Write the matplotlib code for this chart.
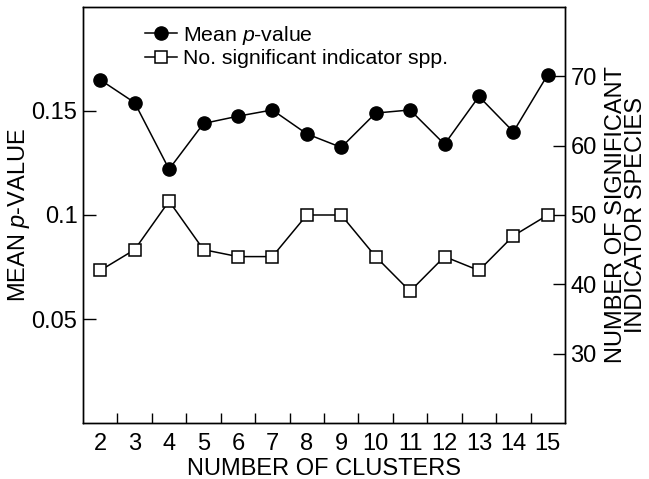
import numpy as np
import matplotlib
matplotlib.use("Agg")
import matplotlib.pyplot as plt
from matplotlib.ticker import FixedLocator, NullFormatter

plt.rcParams.update({
    "font.family": "Liberation Sans",
    "mathtext.fontset": "custom",
    "mathtext.rm": "Liberation Sans",
    "mathtext.it": "Liberation Sans:italic",
    "font.size": 17,
})

# --- dados ---
clusters = [2, 3, 4, 5, 6, 7, 8, 9, 10, 11, 12, 13, 14, 15]
mean_p = [0.165, 0.154, 0.122, 0.144, 0.1475, 0.1505, 0.139,
          0.1325, 0.149, 0.1505, 0.134, 0.157, 0.140, 0.1675]
n_species = [42, 45, 52, 45, 44, 44, 50, 50, 44, 39, 44, 42, 47, 50]

left_ticks = [0.05, 0.1, 0.15]
left_ticklabels = ["0.05", "0.1", "0.15"]
right_ticks = [30, 40, 50, 60, 70]

fig = plt.figure(figsize=(6.49, 4.79), dpi=100)
ax = fig.add_axes([0.1279, 0.1169, 0.7427, 0.8685])
ax2 = ax.twinx()

l1, = ax.plot(clusters, mean_p, color="black", linewidth=1.1, marker="o",
              markersize=9.5, markerfacecolor="black", markeredgecolor="black",
              label="Mean $p$-value", zorder=3)
l2, = ax2.plot(clusters, n_species, color="black", linewidth=1.1, marker="s",
               markersize=9, markerfacecolor="white", markeredgecolor="black",
               markeredgewidth=1.1, label="No. significant indicator spp.", zorder=3)

ax.set_xlim(1.5, 15.5)
ax.set_ylim(0, 0.2)
ax2.set_ylim(20, 80)

# rótulos nos inteiros, marcas nos meios
ax.set_xticks(clusters)
ax.xaxis.set_minor_locator(FixedLocator(np.arange(2.5, 15, 1.0)))
ax.xaxis.set_minor_formatter(NullFormatter())
ax.tick_params(axis="x", which="major", length=0, pad=7, labelsize=17)
ax.tick_params(axis="x", which="minor", direction="in", length=7, width=1)

ax.set_yticks(left_ticks)
ax.set_yticklabels(left_ticklabels)
ax.tick_params(axis="y", direction="in", length=9, width=1, pad=4, labelsize=17)

ax2.set_yticks(right_ticks)
ax2.tick_params(axis="y", direction="in", length=9, width=1, pad=4, labelsize=17)

for a in (ax, ax2):
    for s in a.spines.values():
        s.set_linewidth(1.0)

ax.set_xlabel("NUMBER OF CLUSTERS", fontsize=17, labelpad=2)
ax.set_ylabel("MEAN $p$-VALUE", fontsize=17, labelpad=0)
ax2.set_ylabel("NUMBER OF SIGNIFICANT\nINDICATOR SPECIES", fontsize=17,
               labelpad=6, linespacing=0.88)

ax2.legend([l1, l2], [l1.get_label(), l2.get_label()], loc="upper left",
           bbox_to_anchor=(0.11, 0.98), frameon=False, fontsize=15.3,
           handlelength=1.55, handletextpad=0.25, labelspacing=0.1,
           borderaxespad=0)

fig.savefig("out.png", dpi=100)
